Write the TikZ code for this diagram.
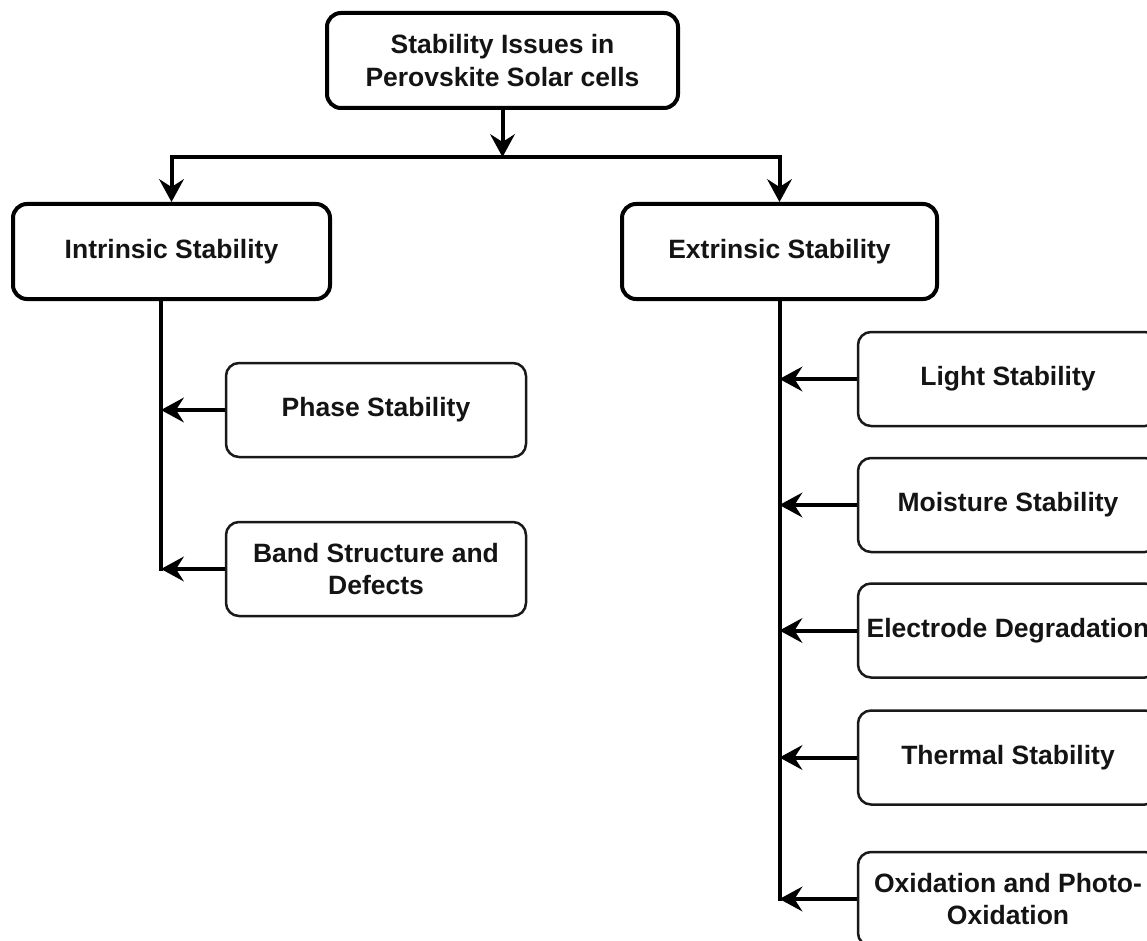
\documentclass[tikz,border=0pt]{standalone}
\usepackage{fontspec}
\setmainfont{Liberation Sans}
\usetikzlibrary{arrows.meta}
\begin{document}
\begin{tikzpicture}[x=1pt,y=-1pt,
  lbl/.style={font=\fontsize{26.5pt}{32.5pt}\selectfont\bfseries, text=black!92, align=center, inner sep=0pt},
  mainbox/.style={lbl, draw=black, line width=4pt, rounded corners=14pt, minimum height=95pt},
  subbox/.style={lbl, draw=black!90, line width=2.5pt, rounded corners=13pt, minimum width=300pt, minimum height=94pt},
  conn/.style={line width=4pt, draw=black},
  arrowed/.style={-{Stealth[length=23pt,width=25pt,inset=8pt,line width=1.5pt]}},
]
\useasboundingbox (0,0) rectangle (1147,941);
\clip (0,0) rectangle (1147,941);
\fill[white] (0,0) rectangle (1147,941);

\node[mainbox, minimum width=351pt] (top) at (502.5,60.5) {Stability Issues in\\Perovskite Solar cells};
\node[mainbox, minimum width=317pt] (intr) at (171.5,251.5) {Intrinsic Stability};
\node[mainbox, minimum width=315pt] (extr) at (779.5,251.5) {Extrinsic Stability};
\node[subbox] (phase) at (376,410) {Phase Stability};
\node[subbox] (band) at (376,569) {Band Structure and\\Defects};
\node[subbox] (light) at (1008,379) {Light Stability};
\node[subbox] (moist) at (1008,505) {Moisture Stability};
\node[subbox] (elec) at (1008,630.5) {Electrode Degradation};
\node[subbox] (therm) at (1008,757.5) {Thermal Stability};
\node[subbox] (oxid) at (1008,899) {Oxidation and Photo-\\Oxidation};

\coordinate (hmid) at (502.5,157);
\coordinate (lbus) at (161,571);
\coordinate (rbus) at (779.5,901);

\draw[conn,arrowed] (top.south) -- (hmid);
\draw[conn,arrowed] (hmid) -| (intr.north);
\draw[conn,arrowed] (hmid) -| (extr.north);
\draw[conn] (intr.south -| lbus) -- (lbus);
\draw[conn] (extr.south) -- (rbus);
\draw[conn,arrowed] (phase.west) -- (phase.west -| lbus);
\draw[conn,arrowed] (band.west) -- (band.west -| lbus);
\draw[conn,arrowed] (light.west) -- (light.west -| rbus);
\draw[conn,arrowed] (moist.west) -- (moist.west -| rbus);
\draw[conn,arrowed] (elec.west) -- (elec.west -| rbus);
\draw[conn,arrowed] (therm.west) -- (therm.west -| rbus);
\draw[conn,arrowed] (oxid.west) -- (oxid.west -| rbus);
\end{tikzpicture}
\end{document}
